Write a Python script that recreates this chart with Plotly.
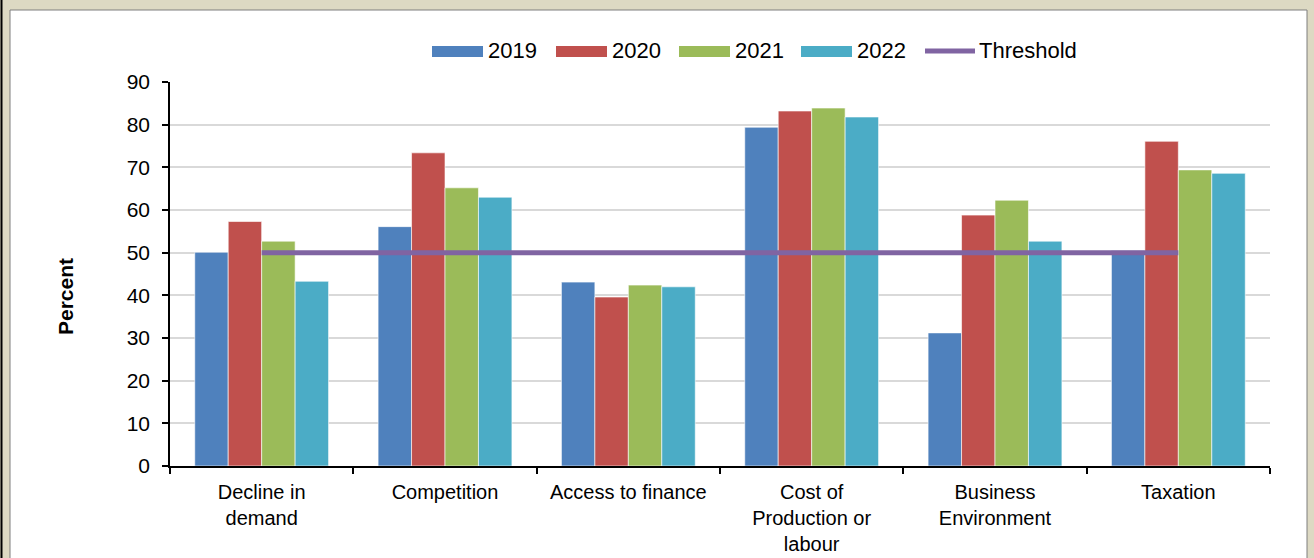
import plotly.graph_objects as go

categories = ["Decline in<br>demand", "Competition", "Access to finance",
              "Cost of<br>Production or<br>labour", "Business<br>Environment", "Taxation"]
series_names = ["2019", "2020", "2021", "2022"]
v2019 = [50.1, 56.1, 43.1, 79.4, 31.2, 50.5]
v2020 = [57.3, 73.4, 39.6, 83.2, 58.8, 76.1]
v2021 = [52.7, 65.2, 42.4, 83.9, 62.3, 69.4]
v2022 = [43.3, 63.0, 42.0, 81.8, 52.7, 68.6]
threshold = [50, 50, 50, 50, 50, 50]
y_ticks = [0, 10, 20, 30, 40, 50, 60, 70, 80, 90]

colors = {"2019": "#4F81BD", "2020": "#C0504D", "2021": "#9BBB59", "2022": "#4BACC6",
          "Threshold": "#8064A2"}
font_family = "Liberation Sans, Arial, sans-serif"

fig = go.Figure()
for name, vals in zip(series_names, [v2019, v2020, v2021, v2022]):
    fig.add_trace(go.Bar(x=categories, y=vals, name=name,
                         marker=dict(color=colors[name], line=dict(color="rgba(255,255,255,0.6)", width=1))))
fig.add_trace(go.Scatter(x=categories, y=threshold, name="Threshold", mode="lines",
                         line=dict(color=colors["Threshold"], width=5)))

W, H = 1314, 558
L, R, T, B = 170, 44, 82, 92
pw, ph = W - L - R, H - T - B

def px(x):
    return (x - L) / pw

def py(y):
    return (H - B - y) / ph

shapes = [
    dict(type="rect", xref="paper", yref="paper", x0=px(10), x1=px(1307), y0=py(580), y1=py(10),
         fillcolor="white", line=dict(color="#7F7F7F", width=1), layer="below"),
    dict(type="line", xref="paper", yref="paper", x0=px(1.5), x1=px(1.5), y0=py(0), y1=py(580),
         line=dict(color="black", width=2), layer="below"),
]
annotations = [
    dict(text="<b>Percent</b>", xref="paper", yref="paper", x=px(65), y=py(297),
         showarrow=False, textangle=-90, font=dict(size=21), xanchor="center", yanchor="middle"),
]

# custom legend (wide swatches like the original)
legend_x = [432, 556, 679, 801]
for name, x0 in zip(series_names, legend_x):
    shapes.append(dict(type="rect", xref="paper", yref="paper", x0=px(x0), x1=px(x0 + 51),
                       y0=py(57), y1=py(46), fillcolor=colors[name], line=dict(width=0)))
    annotations.append(dict(text=name, xref="paper", yref="paper", x=px(x0 + 54), y=py(51),
                            xanchor="left", yanchor="middle", showarrow=False, font=dict(size=22)))
shapes.append(dict(type="line", xref="paper", yref="paper", x0=px(925), x1=px(975), y0=py(51), y1=py(51),
                   line=dict(color=colors["Threshold"], width=5)))
annotations.append(dict(text="Threshold", xref="paper", yref="paper", x=px(977), y=py(51),
                        xanchor="left", yanchor="middle", showarrow=False, font=dict(size=22)))

fig.update_layout(
    width=W, height=H,
    margin=dict(l=L, r=R, t=T, b=B, autoexpand=False),
    paper_bgcolor="#DDD9C3",
    plot_bgcolor="white",
    font=dict(family=font_family, size=22, color="black"),
    barmode="group", bargap=0.27, bargroupgap=0,
    showlegend=False,
    shapes=shapes,
    annotations=annotations,
)
fig.update_yaxes(range=[0, 90], tickvals=y_ticks, showline=True, linecolor="black", linewidth=1.5,
                 ticks="outside", ticklen=6, tickcolor="black", tickwidth=1.5,
                 showgrid=True, gridcolor="#D9D9D9", gridwidth=1.5, zeroline=False,
                 ticklabelstandoff=8, tickfont=dict(size=21), automargin=False)
fig.update_xaxes(showline=True, linecolor="black", linewidth=1.5, ticks="outside", ticklen=6,
                 tickcolor="black", tickwidth=1.5, tickson="boundaries", tickangle=0,
                 ticklabelstandoff=7, tickfont=dict(size=20), automargin=False)

fig.write_html("out.html", config={"displayModeBar": False},
               post_script="document.body.style.margin='0';")
